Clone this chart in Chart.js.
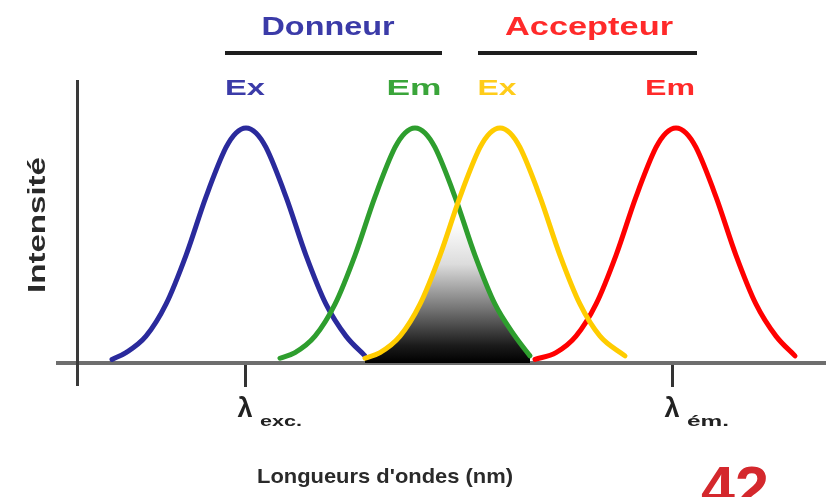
<!DOCTYPE html>
<html>
<head>
<meta charset="utf-8">
<script src="https://cdn.jsdelivr.net/npm/chart.js"></script>
<style>
  body { margin: 0; background: #fff; }
  #fret { display: block; }
</style>
</head>
<body>
<canvas id="fret" width="831" height="497"></canvas>
<script>
// wavelength in arbitrary units along the axis, intensity in % of peak
var donorEx = [
  {x: 54, y: 1.5}, {x: 68, y: 4.4}, {x: 88, y: 11.4}, {x: 108, y: 25}, {x: 128, y: 45.8},
  {x: 148, y: 70.7}, {x: 168, y: 91.7}, {x: 178, y: 97.9}, {x: 188, y: 100}, {x: 198, y: 97.9},
  {x: 208, y: 91.7}, {x: 228, y: 70.7}, {x: 248, y: 45.8}, {x: 268, y: 25}, {x: 288, y: 11.4},
  {x: 307, y: 3}
];
var donorEm = [
  {x: 222, y: 2}, {x: 237, y: 4.4}, {x: 257, y: 11.4}, {x: 277, y: 25}, {x: 297, y: 45.8},
  {x: 317, y: 70.7}, {x: 337, y: 91.7}, {x: 347, y: 97.9}, {x: 357, y: 100}, {x: 367, y: 97.9},
  {x: 377, y: 91.7}, {x: 397, y: 70.7}, {x: 417, y: 45.8}, {x: 437, y: 25}, {x: 457, y: 11.4},
  {x: 472, y: 3}
];
var acceptorEx = [
  {x: 307, y: 2}, {x: 322, y: 4.4}, {x: 342, y: 11.4}, {x: 362, y: 25}, {x: 382, y: 45.8},
  {x: 402, y: 70.7}, {x: 422, y: 91.7}, {x: 432, y: 97.9}, {x: 442, y: 100}, {x: 452, y: 97.9},
  {x: 462, y: 91.7}, {x: 482, y: 70.7}, {x: 502, y: 45.8}, {x: 522, y: 25}, {x: 542, y: 11.4},
  {x: 567, y: 3}
];
var acceptorEm = [
  {x: 477, y: 1.5}, {x: 498, y: 4.4}, {x: 518, y: 11.4}, {x: 538, y: 25}, {x: 558, y: 45.8},
  {x: 578, y: 70.7}, {x: 598, y: 91.7}, {x: 608, y: 97.9}, {x: 618, y: 100}, {x: 628, y: 97.9},
  {x: 638, y: 91.7}, {x: 658, y: 70.7}, {x: 678, y: 45.8}, {x: 698, y: 25}, {x: 718, y: 11.4},
  {x: 737, y: 3}
];
// overlap between donor emission and acceptor excitation
var overlap = [
  {x: 307, y: 0}, {x: 307, y: 2}, {x: 322, y: 4.4}, {x: 342, y: 11.4}, {x: 362, y: 25},
  {x: 372, y: 34.5}, {x: 382, y: 45.8}, {x: 392, y: 58.1}, {x: 399.5, y: 67.6}, {x: 407, y: 58.1},
  {x: 417, y: 45.8}, {x: 427, y: 34.5}, {x: 437, y: 25}, {x: 447, y: 17.2}, {x: 457, y: 11.4},
  {x: 472, y: 3}, {x: 472, y: 0}
];
var tickValues = [187, 614];
var tickNames = [["λ", "exc."], ["λ", "ém."]];

function fitText(c, txt, cx, by, w, font, color) {
  c.save();
  c.font = font;
  c.fillStyle = color;
  c.textAlign = "center";
  c.textBaseline = "alphabetic";
  var m = c.measureText(txt).width;
  c.translate(cx, by);
  c.scale(w / m, 1);
  c.fillText(txt, 0, 0);
  c.restore();
}

var F = '"Liberation Sans", Arial, sans-serif';

var labels = {
  id: "labels",
  afterDraw: function(chart) {
    var c = chart.ctx;
    var xs = chart.scales.x;
    // headers
    fitText(c, "Donneur", 328, 35, 133, "bold 25px " + F, "#3b3ba8");
    fitText(c, "Accepteur", 589, 35, 168, "bold 25px " + F, "#ff2a2a");
    c.save();
    c.strokeStyle = "#1e1e1e";
    c.lineWidth = 4;
    c.beginPath();
    c.moveTo(225, 53); c.lineTo(442, 53);
    c.moveTo(478, 53); c.lineTo(697, 53);
    c.stroke();
    c.restore();
    fitText(c, "Ex", 245, 95, 40, "bold 22px " + F, "#3b3ba8");
    fitText(c, "Em", 414, 95, 55, "bold 22px " + F, "#3aa53a");
    fitText(c, "Ex", 497, 95, 39, "bold 22px " + F, "#ffcc1a");
    fitText(c, "Em", 670, 95, 50, "bold 22px " + F, "#ff2a2a");
    // tick labels
    tickValues.forEach(function(v, i) {
      var px = xs.getPixelForValue(v);
      c.save();
      c.fillStyle = "#222";
      c.font = "bold 27px " + F;
      c.textAlign = "center";
      c.textBaseline = "alphabetic";
      c.fillText(tickNames[i][0], px, 417);
      c.restore();
      fitText(c, tickNames[i][1], px + 36, 426, 42, "bold 14px " + F, "#222");
    });
    // axis titles
    fitText(c, "Longueurs d'ondes (nm)", 385, 483, 256, "bold 21px " + F, "#2a2a2a");
    c.save();
    c.translate(45, 225);
    c.rotate(-Math.PI / 2);
    fitText(c, "Intensité", 0, 0, 136, "bold 23px " + F, "#2a2a2a");
    c.restore();
    c.save();
    c.fillStyle = "#d4282d";
    c.font = "bold 61px " + F;
    c.textAlign = "left";
    c.textBaseline = "alphabetic";
    c.fillText("42", 701, 509);
    c.restore();
  }
};

function overlapFill(ctx) {
  var chart = ctx.chart;
  if (!chart.chartArea) return "#888";
  var ys = chart.scales.y;
  var g = chart.ctx.createLinearGradient(0, ys.getPixelForValue(0), 0, ys.getPixelForValue(60));
  g.addColorStop(0, "#000");
  g.addColorStop(0.12, "#1a1a1a");
  g.addColorStop(0.4, "#7a7a7a");
  g.addColorStop(0.7, "#dcdcdc");
  g.addColorStop(1, "#fff");
  return g;
}

function curve(data, color, order) {
  return {
    data: data,
    borderColor: color,
    borderWidth: 5,
    pointRadius: 0,
    fill: false,
    cubicInterpolationMode: "monotone",
    borderCapStyle: "round",
    borderJoinStyle: "round",
    order: order
  };
}

new Chart(document.getElementById("fret"), {
  type: "line",
  data: {
    datasets: [
      curve(acceptorEx, "#ffcc00", 1),
      curve(acceptorEm, "#ff0000", 2),
      curve(donorEm, "#2e9e2e", 3),
      curve(donorEx, "#2a2a9c", 4),
      {
        data: overlap,
        borderWidth: 0,
        pointRadius: 0,
        tension: 0,
        fill: "origin",
        backgroundColor: overlapFill,
        order: 5
      }
    ]
  },
  options: {
    responsive: false,
    animation: false,
    layout: { padding: { left: 58, right: 6, top: 81, bottom: 112 } },
    plugins: { legend: { display: false }, tooltip: { enabled: false } },
    scales: {
      x: {
        type: "linear",
        min: 0,
        max: 767,
        position: { y: 0 },
        afterBuildTicks: function(s) {
          s.ticks = tickValues.map(function(v) { return { value: v }; });
        },
        ticks: { display: false },
        grid: {
          display: true,
          drawOnChartArea: false,
          drawTicks: true,
          tickLength: 22,
          tickWidth: 3,
          tickColor: "#333"
        },
        border: { display: true, color: "#6e6e6e", width: 4 }
      },
      y: {
        min: -9.4,
        max: 120,
        position: { x: 19 },
        ticks: { display: false },
        grid: { display: false },
        border: { display: true, color: "#3a3a3a", width: 3 }
      }
    }
  },
  plugins: [labels]
});
</script>
</body>
</html>
